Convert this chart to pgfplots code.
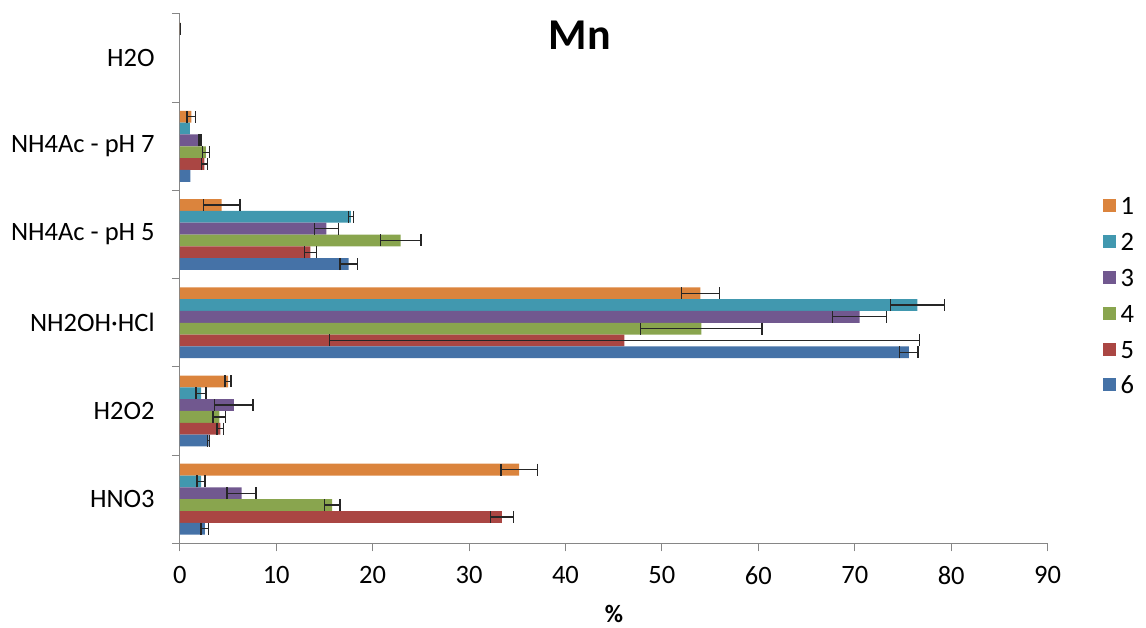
\documentclass[border=0pt]{standalone}
\usepackage{pgfplots}
\pgfplotsset{compat=1.18}
\usepackage{fontspec}
\setmainfont{Carlito}
\definecolor{c1}{HTML}{DB843D}
\definecolor{c2}{HTML}{4198AF}
\definecolor{c3}{HTML}{71588F}
\definecolor{c4}{HTML}{89A54E}
\definecolor{c5}{HTML}{AA4643}
\definecolor{c6}{HTML}{4572A7}
\definecolor{axgray}{HTML}{868686}
\begin{document}
\begin{tikzpicture}[x=1pt,y=1pt]
\useasboundingbox (0,0) rectangle (1146,628);
\begin{axis}[
  at={(179.8pt,84.7pt)}, anchor=south west,
  scale only axis, width=867.8pt, height=529.3pt,
  xmin=0, xmax=90, ymin=-0.5, ymax=5.5,
  axis lines*=left,
  axis line style={axgray, line width=1pt},
  xtick={0,10,...,90},
  ytick={-0.5,0.5,...,5.5},
  y tick label as interval,
  yticklabels={HNO3,H2O2,NH2OH·HCl,NH4Ac - pH 5,NH4Ac - pH 7,H2O\ },
  tick align=outside, major tick length=8pt,
  tick style={axgray, line width=1pt},
  /pgf/number format/assume math mode=true,
  xticklabel style={font=\fontsize{26.5}{30}\selectfont, inner sep=0pt, yshift=-15pt},
  yticklabel style={font=\fontsize{26.5}{30}\selectfont, inner sep=0pt, xshift=-17pt},
  legend style={draw=none, fill=none, inner sep=0pt,
    at={(1.0638,0.655)}, anchor=north west,
    font=\fontsize{26.5}{30}\selectfont,
    row sep=17.8pt,
    nodes={inner sep=0pt, text height=18pt, text depth=0pt}},
  legend cell align=left,
  legend image code/.code={\fill[#1] (0pt,-6.5pt) rectangle (13pt,6.5pt);},
  error bars/error bar style={draw=black!85, line width=1.3pt},
  error bars/error mark options={draw=black!85, line width=1.4pt, mark size=6pt, rotate=90},
]
% bars: x = value, y = category index (0 HNO3, 1 H2O2, 2 NH2OH·HCl, 3 NH4Ac pH5, 4 NH4Ac pH7, 5 H2O)
\addplot[xbar, bar width=0.134, bar shift=0.335, fill=c1, draw=none] coordinates {(35.2,0) (5.0,1) (54.0,2) (4.35,3) (1.2,4) (0.05,5)};
\addlegendentry{\,1}
\addplot[xbar, bar width=0.134, bar shift=0.201, fill=c2, draw=none] coordinates {(2.2,0) (2.2,1) (76.5,2) (17.75,3) (1.05,4)};
\addlegendentry{\,2}
\addplot[xbar, bar width=0.134, bar shift=0.067, fill=c3, draw=none] coordinates {(6.4,0) (5.6,1) (70.5,2) (15.2,3) (2.1,4)};
\addlegendentry{\,3}
\addplot[xbar, bar width=0.134, bar shift=-0.067, fill=c4, draw=none] coordinates {(15.8,0) (4.1,1) (54.1,2) (22.9,3) (2.7,4)};
\addlegendentry{\,4}
\addplot[xbar, bar width=0.134, bar shift=-0.201, fill=c5, draw=none] coordinates {(33.4,0) (4.2,1) (46.1,2) (13.55,3) (2.55,4)};
\addlegendentry{\,5}
\addplot[xbar, bar width=0.134, bar shift=-0.335, fill=c6, draw=none] coordinates {(2.6,0) (3.0,1) (75.6,2) (17.5,3) (1.1,4)};
\addlegendentry{\,6}
% error bars (y positions are category index plus the bar shift of the series)
\addplot[forget plot, draw=none, mark=none, error bars/.cd, x dir=both, x explicit] coordinates {
 (35.2,0.335) +- (1.9,0) (5.0,1.335) +- (0.3,0) (54.0,2.335) +- (1.95,0) (4.35,3.335) +- (1.9,0) (1.2,4.335) +- (0.45,0) (0.05,5.335) +- (0.05,0)};
\addplot[forget plot, draw=none, mark=none, error bars/.cd, x dir=both, x explicit] coordinates {
 (2.2,0.201) +- (0.4,0) (2.2,1.201) +- (0.5,0) (76.5,2.201) +- (2.8,0) (17.75,3.201) +- (0.25,0)};
\addplot[forget plot, draw=none, mark=none, error bars/.cd, x dir=both, x explicit] coordinates {
 (6.4,0.067) +- (1.5,0) (5.6,1.067) +- (2.0,0) (70.5,2.067) +- (2.8,0) (15.2,3.067) +- (1.25,0) (2.1,4.067) +- (0.1,0)};
\addplot[forget plot, draw=none, mark=none, error bars/.cd, x dir=both, x explicit] coordinates {
 (15.8,-0.067) +- (0.8,0) (4.1,0.933) +- (0.65,0) (54.1,1.933) +- (6.3,0) (22.9,2.933) +- (2.1,0) (2.7,3.933) +- (0.35,0)};
\addplot[forget plot, draw=none, mark=none, error bars/.cd, x dir=both, x explicit] coordinates {
 (33.4,-0.201) +- (1.2,0) (4.2,0.799) +- (0.35,0) (46.1,1.799) +- (30.6,0) (13.55,2.799) +- (0.6,0) (2.55,3.799) +- (0.3,0)};
\addplot[forget plot, draw=none, mark=none, error bars/.cd, x dir=both, x explicit] coordinates {
 (2.6,-0.335) +- (0.4,0) (3.0,0.665) +- (0.1,0) (75.6,1.665) +- (0.95,0) (17.5,2.665) +- (0.9,0)};
\end{axis}
\node[font=\fontsize{44}{50}\selectfont\bfseries] at (580,592.3) {Mn};
\node[font=\fontsize{25}{30}\selectfont\bfseries] at (614,14) {\%};
\end{tikzpicture}
\end{document}
